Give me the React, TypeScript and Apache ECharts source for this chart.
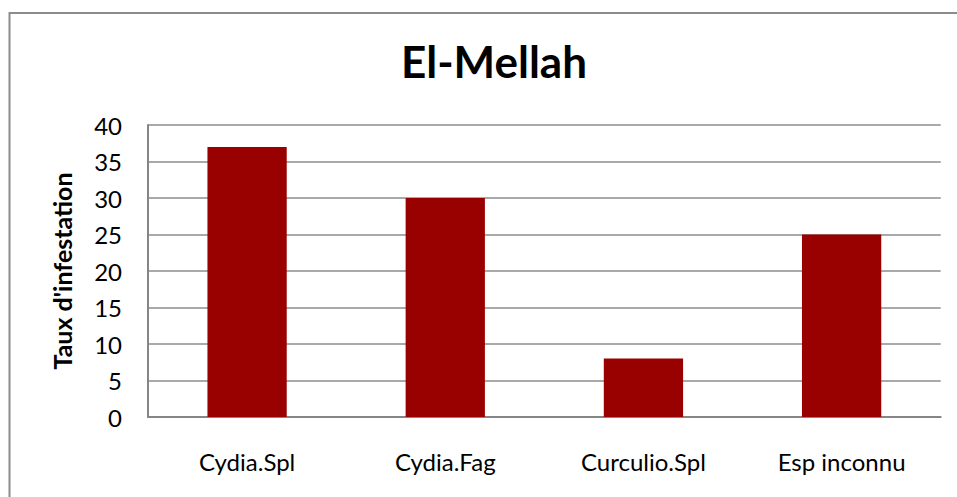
import React, { useEffect, useRef } from "react";
import * as echarts from "echarts";

const categories = ["Cydia.Spl", "Cydia.Fag", "Curculio.Spl", "Esp inconnu"];
const values = [37, 30, 8, 25];
const titleText = "El-Mellah";
const yAxisTitle = "Taux d'infestation";

export default function App() {
  const ref = useRef<HTMLDivElement>(null);
  useEffect(() => {
    if (!ref.current) return;
    const chart = echarts.init(ref.current, null, { renderer: "svg" });
    const font = "Lato, 'Open Sans', sans-serif";
    chart.setOption({
      animation: false,
      backgroundColor: "#ffffff",
      title: {
        text: titleText,
        left: 489,
        top: 34,
        textAlign: "center",
        textStyle: { fontFamily: font, fontWeight: "bold", fontSize: 44, color: "#000" },
      },
      graphic: [
        {
          type: "rect",
          shape: { x: 9.5, y: 13, width: 1000, height: 600 },
          style: { fill: "none", stroke: "#8c8c8c", lineWidth: 2 },
          silent: true,
        },
      ],
      grid: { left: 148, top: 125, right: 16.3, bottom: 80 },
      xAxis: {
        type: "category",
        data: categories,
        axisLine: { show: true, lineStyle: { color: "#868686", width: 2 } },
        axisTick: { show: false },
        axisLabel: { margin: 32, fontFamily: font, fontSize: 24, color: "#000" },
      },
      yAxis: {
        type: "value",
        min: 0,
        max: 40,
        interval: 5,
        name: yAxisTitle,
        nameLocation: "middle",
        nameGap: 74,
        nameTextStyle: { fontFamily: font, fontWeight: "bold", fontSize: 25, color: "#000" },
        axisLine: { show: true, lineStyle: { color: "#868686", width: 2 } },
        axisTick: { show: false },
        axisLabel: { margin: 26, fontFamily: font, fontSize: 24, color: "#000" },
        splitLine: { show: true, lineStyle: { color: "#8c8c8c", width: 1.5 } },
      },
      series: [
        {
          type: "bar",
          data: values,
          barWidth: "40%",
          itemStyle: { color: "#990000" },
        },
      ],
    });
    return () => chart.dispose();
  }, []);
  return (
    <div
      ref={ref}
      style={{ position: "fixed", left: 0, top: 0, width: 957, height: 497 }}
    />
  );
}
